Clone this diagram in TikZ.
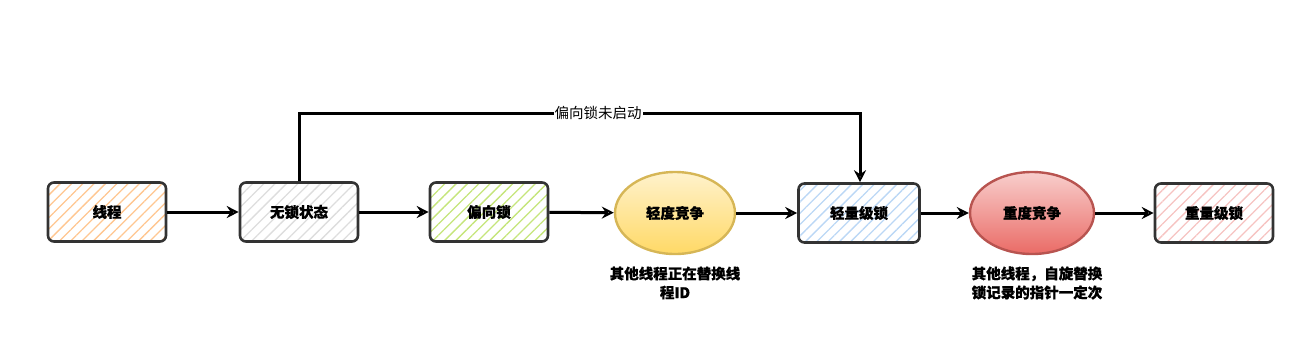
\documentclass[tikz,border=0pt]{standalone}
\usepackage{fontspec}
\setmainfont{Noto Sans CJK SC}[BoldFeatures={FakeBold=0.7}]
\usetikzlibrary{arrows.meta,patterns.meta,shapes.geometric,shadings}
\definecolor{bord}{HTML}{333333}
\definecolor{hOrange}{HTML}{FFC690}
\definecolor{hGrey}{HTML}{DDDDDD}
\definecolor{hGreen}{HTML}{C5E57A}
\definecolor{hBlue}{HTML}{BBD7F5}
\definecolor{hPink}{HTML}{F6C3C1}
\definecolor{yTop}{HTML}{FFF2CC}
\definecolor{yBot}{HTML}{FFD966}
\definecolor{yBord}{HTML}{D6B656}
\definecolor{rTop}{HTML}{F8CECC}
\definecolor{rBot}{HTML}{EA6B66}
\definecolor{rBord}{HTML}{B85450}
\tikzset{
  lbl/.style={font=\fontsize{14.5pt}{18pt}\selectfont\bfseries},
  stbox/.style={lbl, draw=bord, line width=2.6pt, rounded corners=6pt, minimum width=118pt, minimum height=59pt,
    pattern={Lines[angle=45,distance=8pt,line width=1.3pt]}, pattern color=#1},
  ybox/.style={lbl, ellipse, draw=yBord, line width=2.4pt, minimum width=120pt, minimum height=82pt, inner sep=0pt,
    top color=yTop, bottom color=yBot},
  rbox/.style={lbl, ellipse, draw=rBord, line width=2.4pt, minimum width=124pt, minimum height=82pt, inner sep=0pt,
    top color=rTop, bottom color=rBot},
  note/.style={align=center, font=\fontsize{14.5pt}{19pt}\selectfont\bfseries},
  flowarrow/.style={draw=black, line width=3pt, -{Stealth[length=12pt,width=12pt,inset=4pt,open]}},
}
\begin{document}
\begin{tikzpicture}[x=1pt,y=-1pt]
\useasboundingbox (0,0) rectangle (1297,357);
\node[stbox=hOrange] (t) at (107,212) {线程};
\node[stbox=hGrey] (w) at (299,212) {无锁状态};
\node[stbox=hGreen] (p) at (489,212) {偏向锁};
\node[ybox] (q) at (675,213) {轻度竞争};
\node[stbox=hBlue, minimum width=121pt] (l) at (859,213) {轻量级锁};
\node[rbox] (z) at (1032,213) {重度竞争};
\node[stbox=hPink] (h) at (1214,213) {重量级锁};
\node[note] (n1) at (675,283) {其他线程正在替换线\\程ID};
\node[note] (n2) at (1037,283) {其他线程，自旋替换\\锁记录的指针一定次};
\coordinate (c1) at (299,113);
\coordinate (c2) at (860,113);
\path[flowarrow] (t) -- (w);
\path[flowarrow] (w) -- (p);
\path[flowarrow] (p) -- (q);
\path[flowarrow] (q) -- (l);
\path[flowarrow] (l) -- (z);
\path[flowarrow] (z) -- (h);
\path[flowarrow] (w.north) -- (c1) -- (c2) -- (l.north -| c2);
\node[fill=white, inner sep=1pt, font=\fontsize{14.5pt}{18pt}\selectfont] (lab) at (598,113) {偏向锁未启动};
\end{tikzpicture}
\end{document}
